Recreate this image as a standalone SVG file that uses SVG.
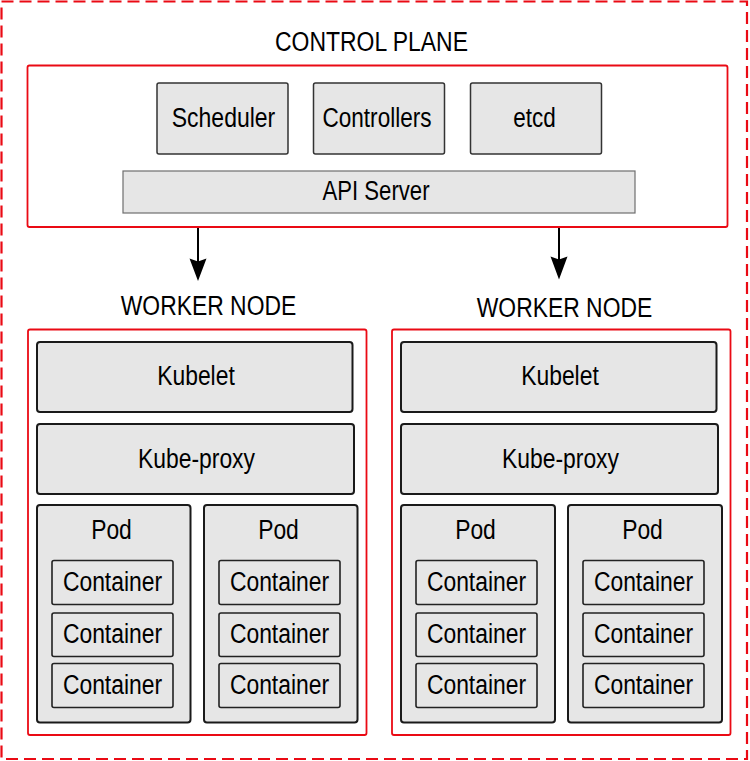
<svg xmlns="http://www.w3.org/2000/svg" width="750" height="761" viewBox="0 0 750 761">
<style>
.bg{fill:#ffffff}
.outer{fill:none;stroke:#ea0a14;stroke-width:2.2;stroke-dasharray:12 6}
.region{fill:#ffffff;stroke:#ea0a14;stroke-width:1.8}
.comp{fill:#e6e6e6;stroke:#333333;stroke-width:1.5}
.api{fill:#e6e6e6;stroke:#6e6e6e;stroke-width:1.2}
.blk{fill:#e6e6e6;stroke:#1a1a1a;stroke-width:2}
.cont{fill:#e6e6e6;stroke:#222222;stroke-width:1.6}
text{font-family:"Liberation Sans",Arial,Helvetica,sans-serif;font-size:27px;fill:#000000;text-anchor:middle}
.conn{stroke:#000000;stroke-width:2;fill:none}
</style>
<rect class="bg" x="0" y="0" width="750" height="761"/>
<rect class="outer" x="1.5" y="1.5" width="745.5" height="757.5"/>

<g id="control-plane">
<text x="371.5" y="50.5" textLength="193" lengthAdjust="spacingAndGlyphs">CONTROL PLANE</text>
<rect class="region" x="27.5" y="65.5" width="700" height="161.5" rx="2"/>
</g>
<g id="scheduler">
<rect class="comp" x="157" y="83" width="131" height="71" rx="2"/>
<text x="223.5" y="127" textLength="103.5" lengthAdjust="spacingAndGlyphs">Scheduler</text>
</g>
<g id="controllers">
<rect class="comp" x="313.5" y="83" width="131" height="71" rx="2"/>
<text x="377" y="127" textLength="109" lengthAdjust="spacingAndGlyphs">Controllers</text>
</g>
<g id="etcd">
<rect class="comp" x="470.5" y="83" width="131" height="71" rx="2"/>
<text x="534.5" y="127" textLength="42.5" lengthAdjust="spacingAndGlyphs">etcd</text>
</g>
<g id="api-server">
<rect class="api" x="123" y="171" width="512" height="42"/>
<text x="376" y="199.5" textLength="107" lengthAdjust="spacingAndGlyphs">API Server</text>
</g>

<g id="connectors">
<line class="conn" x1="198" y1="228" x2="198" y2="262"/>
<path d="M189.5,258.5 L198,281 L206.5,258.5 L198,261.5 Z" fill="#000000"/>
<line class="conn" x1="559" y1="228" x2="559" y2="260"/>
<path d="M550.5,256.5 L559,279.5 L567.5,256.5 L559,259.5 Z" fill="#000000"/>
</g>

<g id="worker-node-1">
<text x="208.5" y="315" textLength="175.5" lengthAdjust="spacingAndGlyphs">WORKER NODE</text>
<rect class="region" x="28" y="329.5" width="338.5" height="405.5" rx="2"/>
</g>
<g id="kubelet-1">
<rect class="blk" x="37" y="342" width="315.5" height="70" rx="3"/>
<text x="196" y="385" textLength="77.6" lengthAdjust="spacingAndGlyphs">Kubelet</text>
</g>
<g id="kube-proxy-1">
<rect class="blk" x="37" y="424" width="317" height="70" rx="3"/>
<text x="196.5" y="467.5" textLength="117" lengthAdjust="spacingAndGlyphs">Kube-proxy</text>
</g>
<g id="pod-1a">
<rect class="blk" x="37" y="505" width="153.5" height="217.5" rx="3"/>
<text x="111.5" y="539" textLength="40.7" lengthAdjust="spacingAndGlyphs">Pod</text>
<rect class="cont" x="52" y="560.5" width="121" height="44" rx="2"/>
<text x="112.5" y="591" textLength="99.2" lengthAdjust="spacingAndGlyphs">Container</text>
<rect class="cont" x="52" y="613" width="121" height="43.5" rx="2"/>
<text x="112.5" y="643" textLength="99.2" lengthAdjust="spacingAndGlyphs">Container</text>
<rect class="cont" x="52" y="663.5" width="121" height="44" rx="2"/>
<text x="112.5" y="694" textLength="99.2" lengthAdjust="spacingAndGlyphs">Container</text>
</g>
<g id="pod-1b">
<rect class="blk" x="204" y="505" width="153.5" height="217.5" rx="3"/>
<text x="278.5" y="539" textLength="40.7" lengthAdjust="spacingAndGlyphs">Pod</text>
<rect class="cont" x="219" y="560.5" width="121" height="44" rx="2"/>
<text x="279.5" y="591" textLength="99.2" lengthAdjust="spacingAndGlyphs">Container</text>
<rect class="cont" x="219" y="613" width="121" height="43.5" rx="2"/>
<text x="279.5" y="643" textLength="99.2" lengthAdjust="spacingAndGlyphs">Container</text>
<rect class="cont" x="219" y="663.5" width="121" height="44" rx="2"/>
<text x="279.5" y="694" textLength="99.2" lengthAdjust="spacingAndGlyphs">Container</text>
</g>

<g id="worker-node-2">
<text x="564.5" y="316.5" textLength="175.5" lengthAdjust="spacingAndGlyphs">WORKER NODE</text>
<rect class="region" x="392" y="329.5" width="338.5" height="405.5" rx="2"/>
</g>
<g id="kubelet-2">
<rect class="blk" x="401" y="342" width="315.5" height="70" rx="3"/>
<text x="560" y="385" textLength="77.6" lengthAdjust="spacingAndGlyphs">Kubelet</text>
</g>
<g id="kube-proxy-2">
<rect class="blk" x="401" y="424" width="317" height="70" rx="3"/>
<text x="560.5" y="467.5" textLength="117" lengthAdjust="spacingAndGlyphs">Kube-proxy</text>
</g>
<g id="pod-2a">
<rect class="blk" x="401" y="505" width="154" height="217.5" rx="3"/>
<text x="475.5" y="539" textLength="40.7" lengthAdjust="spacingAndGlyphs">Pod</text>
<rect class="cont" x="416" y="560.5" width="121" height="44" rx="2"/>
<text x="476.5" y="591" textLength="99.2" lengthAdjust="spacingAndGlyphs">Container</text>
<rect class="cont" x="416" y="613" width="121" height="43.5" rx="2"/>
<text x="476.5" y="643" textLength="99.2" lengthAdjust="spacingAndGlyphs">Container</text>
<rect class="cont" x="416" y="663.5" width="121" height="44" rx="2"/>
<text x="476.5" y="694" textLength="99.2" lengthAdjust="spacingAndGlyphs">Container</text>
</g>
<g id="pod-2b">
<rect class="blk" x="568" y="505" width="154" height="217.5" rx="3"/>
<text x="642.5" y="539" textLength="40.7" lengthAdjust="spacingAndGlyphs">Pod</text>
<rect class="cont" x="583" y="560.5" width="121" height="44" rx="2"/>
<text x="643.5" y="591" textLength="99.2" lengthAdjust="spacingAndGlyphs">Container</text>
<rect class="cont" x="583" y="613" width="121" height="43.5" rx="2"/>
<text x="643.5" y="643" textLength="99.2" lengthAdjust="spacingAndGlyphs">Container</text>
<rect class="cont" x="583" y="663.5" width="121" height="44" rx="2"/>
<text x="643.5" y="694" textLength="99.2" lengthAdjust="spacingAndGlyphs">Container</text>
</g>
</svg>
